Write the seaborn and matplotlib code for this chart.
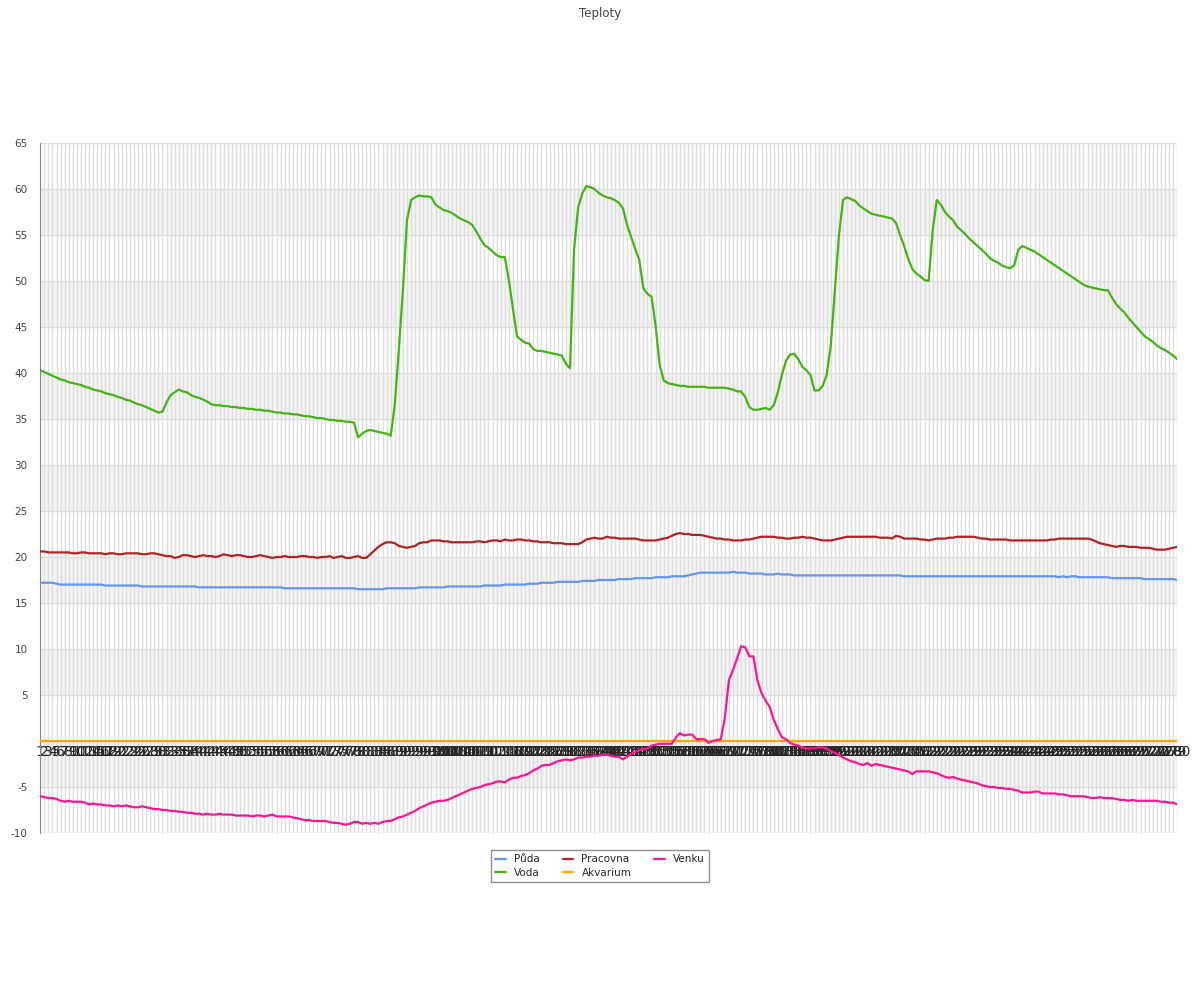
import matplotlib
matplotlib.use('Agg')
import matplotlib.pyplot as plt
from matplotlib.lines import Line2D
import pandas as pd
import seaborn as sns

labels = [str(i) for i in range(1, 281)]

puda = [
    17.2, 17.2, 17.2, 17.2, 17.1, 17.0, 17.0, 17.0, 17.0, 17.0,
    17.0, 17.0, 17.0, 17.0, 17.0, 17.0, 16.9, 16.9, 16.9, 16.9,
    16.9, 16.9, 16.9, 16.9, 16.9, 16.8, 16.8, 16.8, 16.8, 16.8,
    16.8, 16.8, 16.8, 16.8, 16.8, 16.8, 16.8, 16.8, 16.8, 16.7,
    16.7, 16.7, 16.7, 16.7, 16.7, 16.7, 16.7, 16.7, 16.7, 16.7,
    16.7, 16.7, 16.7, 16.7, 16.7, 16.7, 16.7, 16.7, 16.7, 16.7,
    16.6, 16.6, 16.6, 16.6, 16.6, 16.6, 16.6, 16.6, 16.6, 16.6,
    16.6, 16.6, 16.6, 16.6, 16.6, 16.6, 16.6, 16.6, 16.5, 16.5,
    16.5, 16.5, 16.5, 16.5, 16.5, 16.6, 16.6, 16.6, 16.6, 16.6,
    16.6, 16.6, 16.6, 16.7, 16.7, 16.7, 16.7, 16.7, 16.7, 16.7,
    16.8, 16.8, 16.8, 16.8, 16.8, 16.8, 16.8, 16.8, 16.8, 16.9,
    16.9, 16.9, 16.9, 16.9, 17.0, 17.0, 17.0, 17.0, 17.0, 17.0,
    17.1, 17.1, 17.1, 17.2, 17.2, 17.2, 17.2, 17.3, 17.3, 17.3,
    17.3, 17.3, 17.3, 17.4, 17.4, 17.4, 17.4, 17.5, 17.5, 17.5,
    17.5, 17.5, 17.6, 17.6, 17.6, 17.6, 17.7, 17.7, 17.7, 17.7,
    17.7, 17.8, 17.8, 17.8, 17.8, 17.9, 17.9, 17.9, 17.9, 18.0,
    18.1, 18.2, 18.3, 18.3, 18.3, 18.3, 18.3, 18.3, 18.3, 18.3,
    18.4, 18.3, 18.3, 18.3, 18.2, 18.2, 18.2, 18.2, 18.1, 18.1,
    18.1, 18.2, 18.1, 18.1, 18.1, 18.0, 18.0, 18.0, 18.0, 18.0,
    18.0, 18.0, 18.0, 18.0, 18.0, 18.0, 18.0, 18.0, 18.0, 18.0,
    18.0, 18.0, 18.0, 18.0, 18.0, 18.0, 18.0, 18.0, 18.0, 18.0,
    18.0, 18.0, 17.9, 17.9, 17.9, 17.9, 17.9, 17.9, 17.9, 17.9,
    17.9, 17.9, 17.9, 17.9, 17.9, 17.9, 17.9, 17.9, 17.9, 17.9,
    17.9, 17.9, 17.9, 17.9, 17.9, 17.9, 17.9, 17.9, 17.9, 17.9,
    17.9, 17.9, 17.9, 17.9, 17.9, 17.9, 17.9, 17.9, 17.9, 17.9,
    17.8, 17.9, 17.8, 17.9, 17.9, 17.8, 17.8, 17.8, 17.8, 17.8,
    17.8, 17.8, 17.8, 17.7, 17.7, 17.7, 17.7, 17.7, 17.7, 17.7,
    17.7, 17.6, 17.6, 17.6, 17.6, 17.6, 17.6, 17.6, 17.6, 17.5,
]

voda = [
    40.3, 40.1, 39.9, 39.7, 39.5, 39.3, 39.2, 39.0, 38.9, 38.8,
    38.7, 38.5, 38.4, 38.2, 38.1, 38.0, 37.8, 37.7, 37.6, 37.4,
    37.3, 37.1, 37.0, 36.8, 36.6, 36.5, 36.3, 36.1, 35.9, 35.7,
    35.8, 36.8, 37.6, 37.9, 38.2, 38.0, 37.9, 37.6, 37.4, 37.3,
    37.1, 36.9, 36.6, 36.5, 36.5, 36.4, 36.4, 36.3, 36.3, 36.2,
    36.2, 36.1, 36.1, 36.0, 36.0, 35.9, 35.9, 35.8, 35.7, 35.7,
    35.6, 35.6, 35.5, 35.5, 35.4, 35.3, 35.3, 35.2, 35.1, 35.1,
    35.0, 34.9, 34.9, 34.8, 34.8, 34.7, 34.7, 34.6, 33.0, 33.4,
    33.7, 33.8, 33.7, 33.6, 33.5, 33.4, 33.2, 36.5, 42.5, 49.0,
    56.6, 58.8, 59.1, 59.3, 59.2, 59.2, 59.1, 58.3, 58.0, 57.7,
    57.6, 57.4, 57.1, 56.8, 56.6, 56.4, 56.1, 55.4, 54.6, 53.9,
    53.6, 53.2, 52.8, 52.6, 52.6, 50.1, 47.0, 44.0, 43.6, 43.3,
    43.2, 42.6, 42.4, 42.4, 42.3, 42.2, 42.1, 42.0, 41.9, 41.0,
    40.5, 53.4, 58.0, 59.5, 60.3, 60.2, 60.0, 59.6, 59.3, 59.1,
    59.0, 58.8, 58.5, 57.9, 56.1, 54.8, 53.5, 52.3, 49.2, 48.6,
    48.3, 45.2, 40.9, 39.2, 38.9, 38.8, 38.7, 38.6, 38.6, 38.5,
    38.5, 38.5, 38.5, 38.5, 38.4, 38.4, 38.4, 38.4, 38.4, 38.3,
    38.2, 38.0, 38.0, 37.4, 36.3, 36.0, 36.0, 36.1, 36.2, 36.0,
    36.5, 37.9, 39.8, 41.3, 42.0, 42.1, 41.5, 40.7, 40.3, 39.8,
    38.1, 38.1, 38.6, 39.8, 43.0, 49.0, 55.0, 58.8, 59.1, 58.9,
    58.7, 58.2, 57.9, 57.6, 57.3, 57.2, 57.1, 57.0, 56.9, 56.8,
    56.3, 55.0, 53.8, 52.4, 51.3, 50.8, 50.5, 50.1, 50.0, 55.5,
    58.8, 58.3, 57.5, 57.0, 56.6, 55.9, 55.5, 55.1, 54.6, 54.2,
    53.8, 53.4, 53.0, 52.5, 52.2, 52.0, 51.7, 51.5, 51.4, 51.7,
    53.4, 53.8, 53.6, 53.4, 53.2, 52.9, 52.6, 52.3, 52.0, 51.7,
    51.4, 51.1, 50.8, 50.5, 50.2, 49.9, 49.6, 49.4, 49.3, 49.2,
    49.1, 49.0, 49.0, 48.2, 47.5, 47.0, 46.6, 46.0, 45.5, 45.0,
    44.5, 44.0, 43.7, 43.4, 43.0, 42.7, 42.5, 42.2, 41.9, 41.5,
]

pracovna = [
    20.6, 20.6, 20.5, 20.5, 20.5, 20.5, 20.5, 20.5, 20.4, 20.4,
    20.5, 20.5, 20.4, 20.4, 20.4, 20.4, 20.3, 20.4, 20.4, 20.3,
    20.3, 20.4, 20.4, 20.4, 20.4, 20.3, 20.3, 20.4, 20.4, 20.3,
    20.2, 20.1, 20.1, 19.9, 20.0, 20.2, 20.2, 20.1, 20.0, 20.1,
    20.2, 20.1, 20.1, 20.0, 20.1, 20.3, 20.2, 20.1, 20.2, 20.2,
    20.1, 20.0, 20.0, 20.1, 20.2, 20.1, 20.0, 19.9, 20.0, 20.0,
    20.1, 20.0, 20.0, 20.0, 20.1, 20.1, 20.0, 20.0, 19.9, 20.0,
    20.0, 20.1, 19.9, 20.0, 20.1, 19.9, 19.9, 20.0, 20.1, 19.9,
    19.9, 20.3, 20.7, 21.1, 21.4, 21.6, 21.6, 21.5, 21.2, 21.1,
    21.0, 21.1, 21.2, 21.5, 21.6, 21.6, 21.8, 21.8, 21.8, 21.7,
    21.7, 21.6, 21.6, 21.6, 21.6, 21.6, 21.6, 21.7, 21.7, 21.6,
    21.7, 21.8, 21.8, 21.7, 21.9, 21.8, 21.8, 21.9, 21.9, 21.8,
    21.8, 21.7, 21.7, 21.6, 21.6, 21.6, 21.5, 21.5, 21.5, 21.4,
    21.4, 21.4, 21.4, 21.6, 21.9, 22.0, 22.1, 22.0, 22.0, 22.2,
    22.1, 22.1, 22.0, 22.0, 22.0, 22.0, 22.0, 21.9, 21.8, 21.8,
    21.8, 21.8, 21.9, 22.0, 22.1, 22.3, 22.5, 22.6, 22.5, 22.5,
    22.4, 22.4, 22.4, 22.3, 22.2, 22.1, 22.0, 22.0, 21.9, 21.9,
    21.8, 21.8, 21.8, 21.9, 21.9, 22.0, 22.1, 22.2, 22.2, 22.2,
    22.2, 22.1, 22.1, 22.0, 22.0, 22.1, 22.1, 22.2, 22.1, 22.1,
    22.0, 21.9, 21.8, 21.8, 21.8, 21.9, 22.0, 22.1, 22.2, 22.2,
    22.2, 22.2, 22.2, 22.2, 22.2, 22.2, 22.1, 22.1, 22.1, 22.0,
    22.3, 22.2, 22.0, 22.0, 22.0, 22.0, 21.9, 21.9, 21.8, 21.9,
    22.0, 22.0, 22.0, 22.1, 22.1, 22.2, 22.2, 22.2, 22.2, 22.2,
    22.1, 22.0, 22.0, 21.9, 21.9, 21.9, 21.9, 21.9, 21.8, 21.8,
    21.8, 21.8, 21.8, 21.8, 21.8, 21.8, 21.8, 21.8, 21.9, 21.9,
    22.0, 22.0, 22.0, 22.0, 22.0, 22.0, 22.0, 22.0, 21.9, 21.7,
    21.5, 21.4, 21.3, 21.2, 21.1, 21.2, 21.2, 21.1, 21.1, 21.1,
    21.0, 21.0, 21.0, 20.9, 20.8, 20.8, 20.8, 20.9, 21.0, 21.1,
]

akvarium = [0.0] * 280  # flat line at zero in the original

venku = [
    -6.0, -6.1, -6.2, -6.2, -6.3, -6.5, -6.6, -6.5, -6.6, -6.6,
    -6.6, -6.7, -6.9, -6.8, -6.9, -6.9, -7.0, -7.0, -7.1, -7.0,
    -7.1, -7.0, -7.1, -7.2, -7.2, -7.1, -7.2, -7.3, -7.4, -7.4,
    -7.5, -7.5, -7.6, -7.6, -7.7, -7.7, -7.8, -7.8, -7.9, -7.9,
    -8.0, -7.9, -8.0, -8.0, -7.9, -8.0, -8.0, -8.0, -8.1, -8.1,
    -8.1, -8.1, -8.2, -8.1, -8.1, -8.2, -8.1, -8.0, -8.2, -8.2,
    -8.2, -8.2, -8.3, -8.4, -8.5, -8.6, -8.6, -8.7, -8.7, -8.7,
    -8.7, -8.8, -8.9, -8.9, -9.0, -9.1, -9.0, -8.8, -8.8, -9.0,
    -8.9, -9.0, -8.9, -9.0, -8.8, -8.7, -8.7, -8.5, -8.3, -8.2,
    -8.0, -7.8, -7.6, -7.3, -7.1, -6.9, -6.7, -6.6, -6.5, -6.5,
    -6.4, -6.2, -6.0, -5.8, -5.6, -5.4, -5.2, -5.1, -5.0, -4.8,
    -4.7, -4.6, -4.4, -4.4, -4.5, -4.2, -4.0, -4.0, -3.8, -3.7,
    -3.5, -3.2, -3.0, -2.7, -2.6, -2.6, -2.4, -2.2, -2.1, -2.0,
    -2.1, -2.0, -1.8, -1.8, -1.7, -1.7, -1.6, -1.6, -1.5, -1.5,
    -1.6, -1.7, -1.7, -2.0, -1.7, -1.4, -1.2, -1.0, -0.9, -0.8,
    -0.5, -0.4, -0.3, -0.3, -0.3, -0.3, 0.4, 0.85, 0.6, 0.7,
    0.7, 0.2, 0.2, 0.2, -0.2, 0.0, 0.1, 0.2, 2.5, 6.6,
    7.7, 9.0, 10.3, 10.2, 9.2, 9.2, 6.6, 5.2, 4.4, 3.7,
    2.3, 1.3, 0.4, 0.2, -0.2, -0.4, -0.5, -0.7, -0.8, -0.8,
    -0.8, -0.7, -0.7, -0.8, -1.1, -1.3, -1.5, -1.8, -2.0, -2.2,
    -2.3, -2.5, -2.6, -2.4, -2.7, -2.5, -2.6, -2.7, -2.8, -2.9,
    -3.0, -3.1, -3.2, -3.3, -3.6, -3.3, -3.3, -3.3, -3.3, -3.4,
    -3.5, -3.7, -3.9, -4.0, -3.9, -4.1, -4.2, -4.3, -4.4, -4.5,
    -4.6, -4.8, -4.9, -5.0, -5.0, -5.1, -5.1, -5.2, -5.2, -5.3,
    -5.4, -5.6, -5.6, -5.6, -5.5, -5.5, -5.7, -5.7, -5.7, -5.7,
    -5.8, -5.8, -5.9, -6.0, -6.0, -6.0, -6.0, -6.1, -6.2, -6.2,
    -6.1, -6.2, -6.2, -6.2, -6.3, -6.4, -6.4, -6.5, -6.4, -6.5,
    -6.5, -6.5, -6.5, -6.5, -6.5, -6.6, -6.6, -6.7, -6.7, -6.9,
]

series_names = ['Půda', 'Voda', 'Pracovna', 'Akvarium', 'Venku']
series_colors = ['#6495ed', '#44b414', '#b22222', '#ffa500', '#ff1493']

df = pd.DataFrame({'x': range(len(labels)), 'Půda': puda, 'Voda': voda,
                   'Pracovna': pracovna, 'Akvarium': akvarium, 'Venku': venku})
long_df = df.melt(id_vars='x', var_name='serie', value_name='teplota')

sns.set_style('white')
fig = plt.figure(figsize=(12, 10), dpi=100)
ax = fig.add_axes([0.0335, 0.167, 0.9475, 0.69])

# alternating bands
for lo in range(-5, 60, 10):
    ax.axhspan(lo, lo + 5, color='#f4f4f4', zorder=0, lw=0)

sns.lineplot(data=long_df, x='x', y='teplota', hue='serie', hue_order=series_names,
             palette=dict(zip(series_names, series_colors)), linewidth=1.6,
             ax=ax, legend=False, zorder=3)

ax.set_xlim(0, len(labels) - 1)
ax.set_ylim(-10, 65)
ax.set_axisbelow(True)

ax.set_xticks(range(len(labels)))
ax.set_xticklabels(labels, fontsize=7, color='#444444')
ax.tick_params(axis='x', length=0, pad=3)
ax.xaxis.grid(True, color='#dedede', lw=1)

yt = list(range(-10, 66, 5))
ax.set_yticks(yt)
ax.set_yticklabels(['' if v == 0 else str(v) for v in yt], fontsize=7.5, color='#444444')
ax.set_yticks(range(-10, 66), minor=True)
ax.tick_params(axis='y', which='major', length=5, color='#888888', pad=4)
ax.tick_params(axis='y', which='minor', length=3.5, color='#888888')
ax.yaxis.grid(True, color='#dedede', lw=1)

ax.spines['bottom'].set_position(('data', 0))
ax.spines['bottom'].set_visible(False)
ax.spines['top'].set_visible(False)
ax.spines['right'].set_visible(False)
ax.spines['left'].set_color('#888888')
ax.set_xlabel('')
ax.set_ylabel('')

fig.suptitle('Teploty', y=0.993, fontsize=8.5, color='#444444')

handles = [Line2D([], [], color=c, lw=1.6) for c in series_colors]
fig.legend(handles, series_names, loc='upper center', bbox_to_anchor=(0.5, 0.155),
           ncol=3, fontsize=7.5, frameon=True, fancybox=False, edgecolor='#777777',
           handlelength=1.0, columnspacing=2.2, borderpad=0.4, labelspacing=0.3)

fig.savefig('out.png', dpi=100)
